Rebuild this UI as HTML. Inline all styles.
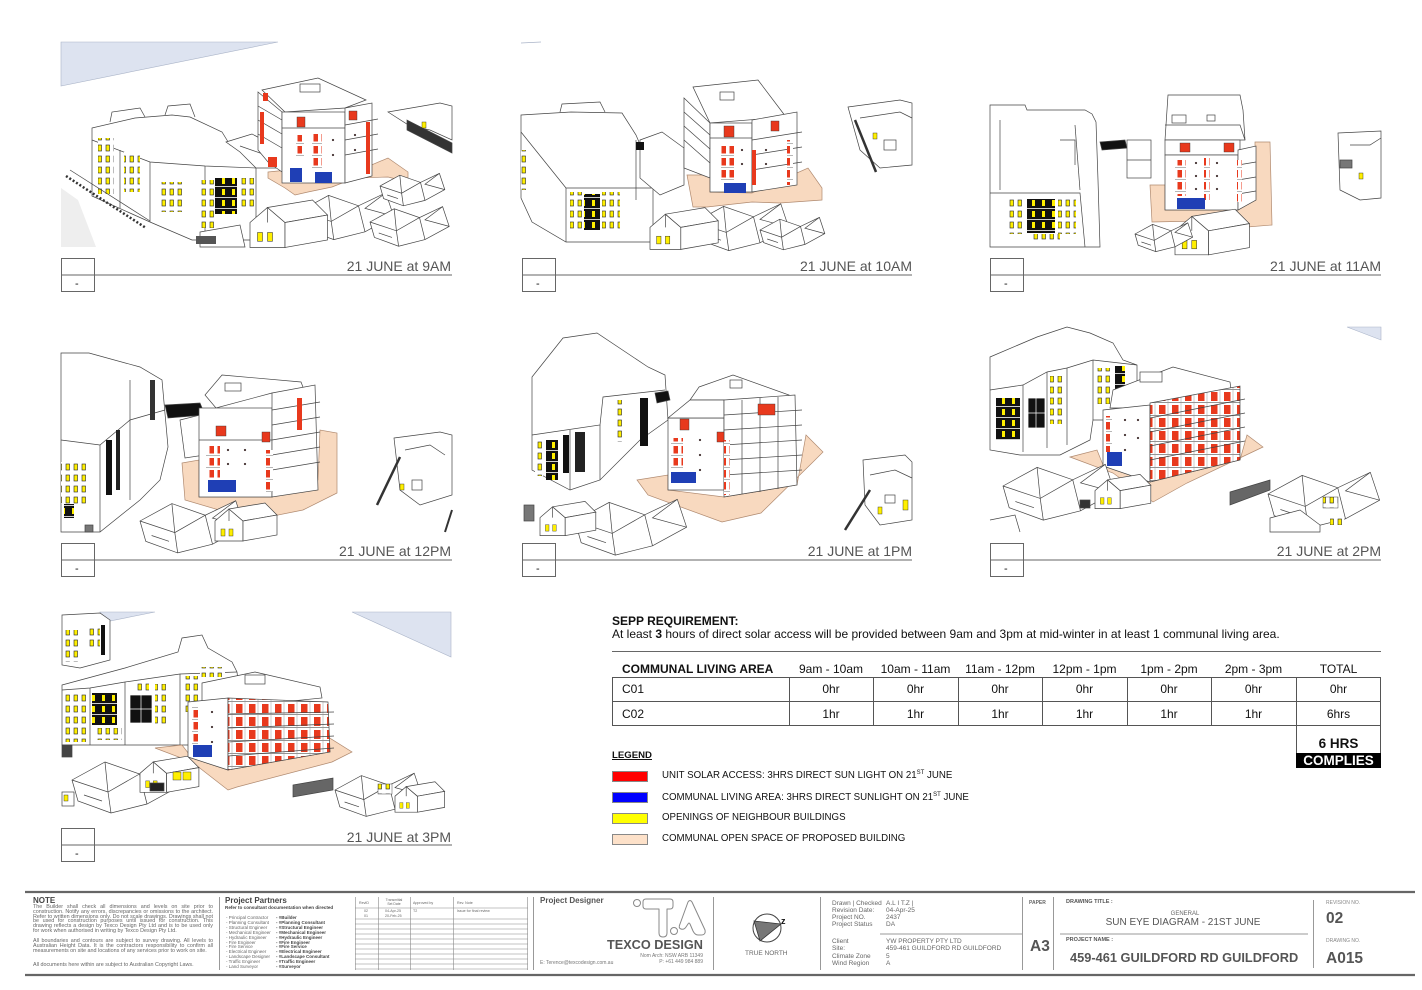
<!DOCTYPE html>
<html><head><meta charset="utf-8"><style>
*{margin:0;padding:0;box-sizing:border-box}
body{width:1422px;height:990px;background:#fff;position:relative;overflow:hidden;font-family:"Liberation Sans",Arial,sans-serif;color:#111}
.t{position:absolute;white-space:nowrap;line-height:1}
.g{color:#555}
.c{text-align:center}
svg{position:absolute;left:0;top:0}
.np{position:absolute;font-size:5.4px;line-height:4.8px;color:#666;text-align:justify;width:180px}
</style></head><body>
<svg width="1422" height="990" viewBox="0 0 1422 990">
<defs>
<pattern id="rw" width="8" height="12" patternUnits="userSpaceOnUse"><rect width="8" height="12" fill="#fff"/><rect x="1.5" y="2" width="4.5" height="7.5" fill="#e8391d"/><line x1="0" y1="11.5" x2="8" y2="11.5" stroke="#888" stroke-width=".6"/></pattern>
<pattern id="rw2" width="13" height="13" patternUnits="userSpaceOnUse"><rect width="13" height="13" fill="#fff"/><rect x="2" y="2" width="6.5" height="9" fill="#e8391d"/><line x1="0" y1="12.5" x2="13" y2="12.5" stroke="#666" stroke-width=".7"/><line x1="11" y1="0" x2="11" y2="13" stroke="#999" stroke-width=".5"/></pattern>
<pattern id="yw" width="8" height="11" patternUnits="userSpaceOnUse"><rect width="8" height="11" fill="#fff"/><rect x="2" y="2" width="3.5" height="6" fill="#ffef00" stroke="#222" stroke-width=".6"/></pattern>
<pattern id="bw" width="10" height="11" patternUnits="userSpaceOnUse"><rect width="10" height="11" fill="#111"/><rect x="2" y="2" width="3" height="6" fill="#ffef00"/><line x1="0" y1="10.5" x2="10" y2="10.5" stroke="#fff" stroke-width=".8"/></pattern>
<g id="hs" fill="#fff" stroke="#444" stroke-width=".7">
<polygon vector-effect="non-scaling-stroke" points="0,20 22,8 45,16 66,6 72,24 50,36 26,42 4,34"/>
<polyline vector-effect="non-scaling-stroke" points="0,20 24,28 45,16" fill="none"/>
<polyline vector-effect="non-scaling-stroke" points="24,28 26,42" fill="none"/>
<polyline vector-effect="non-scaling-stroke" points="22,8 24,28" fill="none"/>
<polyline vector-effect="non-scaling-stroke" points="45,16 50,36" fill="none"/>
<polyline vector-effect="non-scaling-stroke" points="66,6 50,18 72,24" fill="none"/>
<polyline vector-effect="non-scaling-stroke" points="8,30 20,34" fill="none"/>
</g>
<g id="hs2" fill="#fff" stroke="#444" stroke-width=".7">
<polygon vector-effect="non-scaling-stroke" points="0,14 14,2 28,14 28,34 0,34"/>
<polygon vector-effect="non-scaling-stroke" points="14,2 50,-4 62,8 28,14"/>
<polygon vector-effect="non-scaling-stroke" points="28,14 62,8 62,28 28,34"/>
<line vector-effect="non-scaling-stroke" x1="14" y1="2" x2="14" y2="14"/>
<rect x="6" y="22" width="4" height="7" fill="#ffef00" stroke="#222" stroke-width=".4"/>
<rect x="14" y="22" width="4" height="7" fill="#ffef00" stroke="#222" stroke-width=".4"/>
</g>
</defs>

<!-- ================= PANEL 1 : 9AM ================= -->
<g fill="#fff" stroke="#444" stroke-width=".7">
<polygon points="61,42 278,42 61,86" fill="#dde3f0" stroke="#aab4c8" stroke-width=".6"/>
<polygon points="61,188 78,200 96,247 61,247" fill="#eeeeee" stroke="none"/>
<polygon points="92,128 135,118 172,115 190,117 222,132 230,145 248,150 256,168 256,240 192,240 150,222 92,196"/>
<polyline points="92,140 150,162 205,166 256,168" fill="none"/>
<line x1="150" y1="162" x2="150" y2="222"/>
<line x1="205" y1="166" x2="205" y2="236"/>
<line x1="120" y1="150" x2="120" y2="208"/>
<polyline points="110,122 112,112 140,108 145,117" fill="none"/>
<polyline points="165,115 168,106 190,104 195,117" fill="none"/>
<rect x="98" y="138" width="16" height="56" fill="url(#yw)" stroke="none"/>
<rect x="124" y="152" width="16" height="40" fill="url(#yw)" stroke="none"/>
<rect x="160" y="182" width="24" height="30" fill="url(#yw)" stroke="none"/>
<rect x="198" y="180" width="16" height="48" fill="url(#yw)" stroke="none"/>
<rect x="215" y="178" width="22" height="36" fill="url(#bw)" stroke="none"/>
<rect x="238" y="178" width="16" height="30" fill="url(#yw)" stroke="none"/>
<polyline points="66,176 146,228" fill="none" stroke="#333" stroke-width="2.5" stroke-dasharray="2,2"/>
<polyline points="70,170 150,221" fill="none"/>
<polygon points="226,142 252,134 282,150 282,168 256,168 240,152"/>
<line x1="240" y1="146" x2="280" y2="160"/>
<polygon points="268,172 288,170 308,182 342,178 355,172 388,158 408,172 408,182 388,177 355,178 332,187 308,192 295,195 285,188 268,178" fill="#f8d9bf" stroke="#b08a70"/>
<polygon points="258,92 282,112 282,172 268,162 258,150"/>
<polygon points="262,90 318,78 366,100 345,108 285,112"/>
<rect x="282" y="112" width="63" height="71"/>
<polygon points="345,108 372,103 372,176 345,183"/>
<rect x="300" y="84" width="20" height="8"/>
<line x1="258" y1="106" x2="282" y2="120"/><line x1="258" y1="120" x2="282" y2="134"/><line x1="258" y1="134" x2="282" y2="148"/>
<line x1="345" y1="125" x2="378" y2="119"/><line x1="345" y1="140" x2="378" y2="134"/><line x1="345" y1="155" x2="378" y2="149"/>
<line x1="282" y1="128" x2="345" y2="128"/>
<rect x="263" y="93" width="5" height="8" fill="#e8391d" stroke="none"/>
<rect x="260" y="112" width="4" height="32" fill="#e8391d" stroke="none"/>
<rect x="297" y="117" width="8" height="10" fill="#e8391d" stroke="#333" stroke-width=".4"/>
<rect x="349" y="111" width="8" height="9" fill="#e8391d" stroke="#333" stroke-width=".4"/>
<rect x="312" y="133" width="10" height="35" fill="url(#rw)" stroke="none"/>
<rect x="296" y="135" width="8" height="22" fill="url(#rw)" stroke="none"/>
<rect x="366" y="122" width="4" height="52" fill="#e8391d" stroke="none"/>
<rect x="268" y="157" width="9" height="10" fill="#e8391d" stroke="none"/>
<rect x="290" y="168" width="12" height="14" fill="#1f3fb5" stroke="none"/>
<rect x="315" y="172" width="17" height="11" fill="#1f3fb5" stroke="none"/>
<circle cx="333" cy="140" r=".8" fill="#600"/><circle cx="333" cy="155" r=".8" fill="#600"/><circle cx="355" cy="135" r=".8" fill="#600"/><circle cx="355" cy="150" r=".8" fill="#600"/>
<polygon points="388,112 440,103 452,106 452,140 430,130 410,126"/>
<polygon points="407,120 452,143 452,153 407,130" fill="#333"/>
<rect x="422" y="122" width="4" height="6" fill="#ffef00" stroke="#222" stroke-width=".4"/>
<use href="#hs" transform="translate(300,185) scale(1.3)"/>
<use href="#hs" transform="translate(370,200) scale(1.1)"/>
<use href="#hs2" transform="translate(250,205) scale(1.25)"/>
<use href="#hs" transform="translate(380,168) scale(.9)"/>
<polygon points="200,232 240,225 245,247 200,247" fill="#fff"/>
<rect x="196" y="236" width="20" height="8" fill="#555" stroke="none"/>
</g>

<!-- ================= PANEL 2 : 10AM ================= -->
<g fill="#fff" stroke="#444" stroke-width=".7">
<line x1="521" y1="43" x2="541" y2="42" stroke="#aab4c8"/>
<polygon points="521,115 571,112 622,113 636,135 653,175 653,242 566,242 532,222 521,198"/>
<polyline points="521,132 566,188 653,188" fill="none"/>
<line x1="566" y1="188" x2="566" y2="242"/>
<polyline points="560,112 562,104 600,102 605,112" fill="none"/>
<rect x="521" y="150" width="6" height="40" fill="url(#yw)" stroke="none"/>
<rect x="570" y="192" width="12" height="40" fill="url(#yw)" stroke="none"/>
<rect x="584" y="194" width="16" height="36" fill="url(#bw)" stroke="none"/>
<rect x="602" y="192" width="18" height="40" fill="url(#yw)" stroke="none"/>
<line x1="636" y1="140" x2="636" y2="200"/>
<polygon points="640,140 662,132 684,148 684,185 660,195 640,178"/>
<rect x="636" y="142" width="8" height="8" fill="#111" stroke="none"/>
<polygon points="687,175 710,175 710,192 752,193 763,188 808,168 822,188 822,200 780,203 752,202 707,207 693,207" fill="#f8d9bf" stroke="#b08a70"/>
<polygon points="684,98 710,123 710,178 684,168"/>
<polygon points="693,87 758,80 786,117 710,123"/>
<rect x="710" y="123" width="42" height="69"/>
<polygon points="752,120 797,112 797,185 752,192"/>
<rect x="720" y="92" width="14" height="8"/>
<line x1="684" y1="112" x2="710" y2="135"/><line x1="684" y1="126" x2="710" y2="149"/><line x1="684" y1="140" x2="710" y2="163"/>
<line x1="752" y1="140" x2="802" y2="132"/><line x1="752" y1="155" x2="802" y2="147"/><line x1="752" y1="170" x2="802" y2="162"/>
<line x1="710" y1="138" x2="752" y2="138"/>
<rect x="724" y="126" width="10" height="11" fill="#e8391d" stroke="#333" stroke-width=".4"/>
<rect x="771" y="121" width="8" height="10" fill="#e8391d" stroke="#333" stroke-width=".4"/>
<rect x="721" y="144" width="13" height="38" fill="url(#rw)" stroke="none"/>
<rect x="787" y="140" width="6" height="45" fill="url(#rw)" stroke="none"/>
<rect x="752" y="150" width="4" height="35" fill="#e8391d" stroke="none"/>
<circle cx="742" cy="150" r=".8" fill="#600"/><circle cx="742" cy="164" r=".8" fill="#600"/><circle cx="766" cy="150" r=".8" fill="#600"/><circle cx="766" cy="164" r=".8" fill="#600"/>
<rect x="724" y="183" width="22" height="10" fill="#1f3fb5" stroke="none"/>
<polygon points="848,107 900,100 912,103 912,165 880,168 860,150"/>
<polyline points="860,118 900,112 912,118" fill="none"/>
<line x1="855" y1="120" x2="876" y2="172" stroke="#333" stroke-width="2.5"/>
<rect x="884" y="140" width="12" height="10" fill="#fff"/>
<rect x="873" y="133" width="4" height="6" fill="#ffef00" stroke="#222" stroke-width=".4"/>
<use href="#hs" transform="translate(695,196) scale(1.3)"/>
<use href="#hs2" transform="translate(650,212) scale(1.1)"/>
<use href="#hs" transform="translate(760,212) scale(.9)"/>
</g>

<!-- ================= PANEL 3 : 11AM ================= -->
<g fill="#fff" stroke="#444" stroke-width=".7">
<polygon points="990,105 1025,105 1027,110 1085,110 1092,114 1096,122 1098,180 1100,247 990,247"/>
<polyline points="990,193 1080,193 1085,247" fill="none"/>
<line x1="1000" y1="120" x2="1000" y2="190"/>
<line x1="1075" y1="125" x2="1080" y2="190"/>
<polyline points="1060,140 1075,140 1075,165" fill="none"/>
<rect x="1008" y="198" width="14" height="36" fill="url(#yw)" stroke="none"/>
<rect x="1027" y="199" width="28" height="34" fill="url(#bw)" stroke="none"/>
<rect x="1058" y="198" width="18" height="36" fill="url(#yw)" stroke="none"/>
<rect x="1030" y="234" width="30" height="8" fill="url(#yw)" stroke="none"/>
<polygon points="1100,142 1125,140 1127,148 1102,150" fill="#111"/>
<rect x="1127" y="140" width="24" height="38"/>
<line x1="1127" y1="160" x2="1151" y2="160"/>
<polygon points="1150,185 1165,185 1165,210 1238,210 1255,200 1255,142 1270,142 1272,225 1235,228 1200,221 1152,222" fill="#f8d9bf" stroke="#b08a70"/>
<polygon points="1168,95 1240,95 1243,110 1245,140 1165,140"/>
<polyline points="1165,125 1240,125 1245,140" fill="none"/>
<rect x="1172" y="115" width="14" height="8"/>
<rect x="1207" y="115" width="8" height="6"/>
<rect x="1165" y="140" width="75" height="15"/>
<rect x="1165" y="155" width="73" height="55"/>
<polygon points="1238,150 1256,146 1256,200 1238,210"/>
<line x1="1238" y1="165" x2="1256" y2="162"/><line x1="1238" y1="180" x2="1256" y2="177"/><line x1="1238" y1="194" x2="1256" y2="191"/>
<rect x="1180" y="143" width="10" height="9" fill="#e8391d" stroke="#333" stroke-width=".4"/>
<rect x="1224" y="143" width="10" height="9" fill="#e8391d" stroke="#333" stroke-width=".4"/>
<rect x="1175" y="160" width="11" height="36" fill="url(#rw)" stroke="none"/>
<rect x="1204" y="158" width="6" height="42" fill="url(#rw)" stroke="none"/>
<rect x="1237" y="160" width="5" height="42" fill="url(#rw)" stroke="none"/>
<circle cx="1196" cy="163" r=".8" fill="#600"/><circle cx="1196" cy="176" r=".8" fill="#600"/><circle cx="1196" cy="189" r=".8" fill="#600"/>
<circle cx="1217" cy="163" r=".8" fill="#600"/><circle cx="1217" cy="176" r=".8" fill="#600"/><circle cx="1217" cy="189" r=".8" fill="#600"/>
<rect x="1177" y="198" width="28" height="11" fill="#1f3fb5" stroke="none"/>
<use href="#hs2" transform="translate(1175,214) scale(1.2)"/>
<use href="#hs" transform="translate(1135,218) scale(.8)"/>
<polygon points="1338,133 1381,131 1381,198 1360,200 1340,190"/>
<polyline points="1350,145 1370,145 1381,138" fill="none"/>
<rect x="1340" y="160" width="12" height="8" fill="#777"/>
<rect x="1359" y="173" width="4" height="6" fill="#ffef00" stroke="#222" stroke-width=".4"/>
</g>

<!-- ================= PANEL 4 : 12PM ================= -->
<g fill="#fff" stroke="#444" stroke-width=".7">
<polygon points="61,353 89,353 140,367 162,380 168,447 160,480 140,500 100,532 61,532"/>
<polyline points="61,440 100,445 130,420 165,410" fill="none"/>
<line x1="100" y1="445" x2="100" y2="532"/>
<line x1="130" y1="380" x2="130" y2="500"/>
<rect x="61" y="462" width="28" height="42" fill="url(#yw)" stroke="none"/>
<rect x="64" y="504" width="10" height="14" fill="url(#bw)" stroke="none"/>
<rect x="106" y="440" width="6" height="55" fill="#111" stroke="none"/>
<rect x="116" y="430" width="4" height="60" fill="#222" stroke="none"/>
<rect x="150" y="380" width="5" height="40" fill="#333" stroke="none"/>
<polygon points="165,405 200,403 205,415 168,418" fill="#111"/>
<polygon points="180,420 200,415 205,455 185,458"/>
<polygon points="182,463 199,460 199,497 272,497 318,480 320,430 337,433 337,493 303,510 253,520 185,500" fill="#f8d9bf" stroke="#b08a70"/>
<polygon points="222,375 301,382 306,395 272,393 216,408 205,395"/>
<rect x="199" y="408" width="73" height="89"/>
<polygon points="272,393 315,385 318,490 272,497"/>
<rect x="225" y="383" width="16" height="8"/>
<line x1="272" y1="410" x2="320" y2="402"/><line x1="272" y1="425" x2="320" y2="417"/><line x1="272" y1="440" x2="320" y2="432"/><line x1="272" y1="455" x2="320" y2="447"/><line x1="272" y1="470" x2="320" y2="462"/>
<line x1="199" y1="440" x2="272" y2="440"/>
<rect x="216" y="426" width="10" height="10" fill="#e8391d" stroke="#333" stroke-width=".4"/>
<rect x="262" y="432" width="8" height="10" fill="#e8391d" stroke="#333" stroke-width=".4"/>
<rect x="206" y="444" width="14" height="34" fill="url(#rw)" stroke="none"/>
<rect x="266" y="450" width="7" height="42" fill="url(#rw)" stroke="none"/>
<rect x="297" y="398" width="5" height="32" fill="#e8391d" stroke="none"/>
<circle cx="228" cy="450" r=".8" fill="#600"/><circle cx="228" cy="464" r=".8" fill="#600"/><circle cx="245" cy="450" r=".8" fill="#600"/><circle cx="245" cy="464" r=".8" fill="#600"/>
<rect x="208" y="480" width="28" height="12" fill="#1f3fb5" stroke="none"/>
<use href="#hs" transform="translate(140,492) scale(1.45)"/>
<use href="#hs2" transform="translate(215,507) scale(1.0)"/>
<polygon points="394,438 440,432 452,435 452,495 420,505 400,490"/>
<polyline points="405,450 430,445 445,455" fill="none"/>
<rect x="412" y="480" width="10" height="10"/>
<rect x="400" y="484" width="4" height="6" fill="#ffef00" stroke="#222" stroke-width=".4"/>
<line x1="377" y1="505" x2="400" y2="457" stroke="#333" stroke-width="2.5"/>
<line x1="445" y1="532" x2="452" y2="510" stroke="#333" stroke-width="2"/>
<rect x="85" y="525" width="8" height="7" fill="#777"/>
</g>

<!-- ================= PANEL 5 : 1PM ================= -->
<g fill="#fff" stroke="#444" stroke-width=".7">
<polygon points="532,377 563,338 597,333 648,367 665,375 668,420 640,440 600,480 570,490 532,470"/>
<polyline points="532,435 600,425 603,397 665,390" fill="none"/>
<line x1="600" y1="425" x2="600" y2="480"/>
<line x1="570" y1="430" x2="570" y2="490"/>
<rect x="535" y="440" width="8" height="36" fill="url(#yw)" stroke="none"/>
<rect x="546" y="440" width="12" height="40" fill="url(#bw)" stroke="none"/>
<rect x="563" y="435" width="6" height="38" fill="#111" stroke="none"/>
<rect x="575" y="432" width="10" height="40" fill="#222" stroke="none"/>
<rect x="617" y="400" width="8" height="42" fill="url(#yw)" stroke="none"/>
<rect x="640" y="398" width="8" height="48" fill="#111" stroke="none"/>
<polygon points="655,393 668,391 670,400 657,403" fill="#111"/>
<polygon points="637,480 668,475 668,490 724,497 797,485 806,435 823,452 812,463 761,513 722,522 648,495" fill="#f8d9bf" stroke="#b08a70"/>
<polygon points="699,387 733,375 789,395 775,408 724,400 690,400"/>
<rect x="668" y="418" width="56" height="72"/>
<polygon points="668,418 690,400 724,400 724,418"/>
<polygon points="724,400 795,395 797,485 724,497"/>
<rect x="730" y="380" width="12" height="8"/>
<line x1="724" y1="415" x2="802" y2="410"/><line x1="724" y1="430" x2="802" y2="425"/><line x1="724" y1="445" x2="802" y2="440"/><line x1="724" y1="460" x2="802" y2="455"/><line x1="724" y1="475" x2="802" y2="470"/>
<line x1="742" y1="400" x2="742" y2="494"/><line x1="760" y1="398" x2="760" y2="492"/><line x1="778" y1="397" x2="778" y2="489"/>
<rect x="680" y="419" width="9" height="11" fill="#e8391d" stroke="#333" stroke-width=".4"/>
<rect x="717" y="432" width="7" height="10" fill="#e8391d" stroke="#333" stroke-width=".4"/>
<rect x="758" y="404" width="17" height="11" fill="#e8391d" stroke="#333" stroke-width=".4"/>
<rect x="671" y="438" width="12" height="32" fill="url(#rw)" stroke="none"/>
<rect x="724" y="440" width="6" height="55" fill="url(#rw)" stroke="none"/>
<circle cx="700" cy="440" r=".8" fill="#600"/><circle cx="700" cy="455" r=".8" fill="#600"/><circle cx="700" cy="470" r=".8" fill="#600"/>
<rect x="671" y="472" width="25" height="11" fill="#1f3fb5" stroke="none"/>
<use href="#hs" transform="translate(575,490) scale(1.55)"/>
<use href="#hs2" transform="translate(540,505) scale(.9)"/>
<rect x="524" y="505" width="10" height="16" fill="#777"/>
<polygon points="863,460 905,455 912,462 912,520 880,525 865,505"/>
<polyline points="870,475 895,470 912,478" fill="none"/>
<line x1="845" y1="530" x2="870" y2="490" stroke="#333" stroke-width="2.5"/>
<rect x="878" y="507" width="4" height="7" fill="#ffef00" stroke="#222" stroke-width=".4"/>
<rect x="903" y="500" width="5" height="10" fill="#ffef00" stroke="#222" stroke-width=".4"/>
<rect x="885" y="495" width="10" height="8"/>
</g>

<!-- ================= PANEL 6 : 2PM ================= -->
<g fill="#fff" stroke="#444" stroke-width=".7">
<polygon points="1347,327 1381,327 1381,340" fill="#dde3f0" stroke="#aab4c8" stroke-width=".6"/>
<polygon points="990,357 1037,337 1067,327 1090,333 1113,343 1123,360 1137,365 1137,407 1110,420 1093,420 1090,440 1060,455 1020,455 990,450"/>
<polyline points="990,390 1023,385 1047,372 1067,368 1093,360 1137,365" fill="none"/>
<line x1="1023" y1="385" x2="1023" y2="452"/><line x1="1047" y1="372" x2="1047" y2="448"/><line x1="1067" y1="368" x2="1067" y2="445"/><line x1="1093" y1="360" x2="1093" y2="420"/>
<rect x="996" y="398" width="24" height="42" fill="url(#bw)" stroke="none"/>
<rect x="1028" y="398" width="17" height="30" fill="#111" stroke="#fff" stroke-width=".8"/>
<line x1="1036" y1="398" x2="1036" y2="428" stroke="#fff"/><line x1="1028" y1="413" x2="1045" y2="413" stroke="#fff"/>
<rect x="1050" y="376" width="14" height="48" fill="url(#yw)" stroke="none"/>
<rect x="1095" y="368" width="18" height="36" fill="url(#yw)" stroke="none"/>
<rect x="1115" y="366" width="10" height="30" fill="url(#bw)" stroke="none"/>
<polygon points="1070,457 1097,450 1103,465 1150,482 1240,460 1247,435 1263,447 1187,483 1153,502 1113,473" fill="#f8d9bf" stroke="#b08a70"/>
<polygon points="1113,390 1173,367 1230,382 1232,397 1167,408 1110,408"/>
<rect x="1140" y="372" width="22" height="10"/>
<polygon points="1103,410 1150,405 1150,482 1103,466"/>
<polygon points="1150,403 1240,386 1240,460 1150,482" fill="url(#rw2)"/>
<line x1="1150" y1="418" x2="1245" y2="399"/><line x1="1150" y1="432" x2="1245" y2="413"/><line x1="1150" y1="446" x2="1245" y2="427"/><line x1="1150" y1="460" x2="1245" y2="441"/>
<rect x="1106" y="416" width="6" height="36" fill="url(#rw)" stroke="none"/>
<circle cx="1125" cy="420" r=".8" fill="#600"/><circle cx="1125" cy="435" r=".8" fill="#600"/><circle cx="1125" cy="450" r=".8" fill="#600"/><circle cx="1138" cy="420" r=".8" fill="#600"/><circle cx="1138" cy="438" r=".8" fill="#600"/>
<rect x="1107" y="452" width="15" height="14" fill="#1f3fb5" stroke="none"/>
<use href="#hs" transform="translate(1003,455) scale(1.55)"/>
<use href="#hs2" transform="translate(1095,478) scale(.9)"/>
<rect x="1080" y="500" width="10" height="8" fill="#333"/>
<polygon points="1230,492 1270,480 1270,490 1230,505" fill="#666"/>
<use href="#hs" transform="translate(1268,463) scale(1.55)"/>
<rect x="1323" y="497" width="15" height="11" fill="url(#yw)" stroke="#222" stroke-width=".4"/>
<polygon points="1270,518 1300,510 1320,525 1320,532 1270,532"/>
<rect x="1330" y="515" width="14" height="10" fill="url(#yw)" stroke="none"/>
<polyline points="990,520 1015,515 1020,532" fill="none"/>
</g>

<!-- ================= PANEL 7 : 3PM ================= -->
<g fill="#fff" stroke="#444" stroke-width=".7">
<polygon points="100,612 155,612 105,622" fill="#dde3f0" stroke="#aab4c8" stroke-width=".6"/>
<polygon points="352,612 451,612 451,657" fill="#dde3f0" stroke="#aab4c8" stroke-width=".6"/>
<polygon points="62,615 100,613 110,620 110,660 80,668 62,665"/>
<rect x="64" y="630" width="15" height="32" fill="url(#yw)" stroke="none"/>
<rect x="88" y="625" width="12" height="24" fill="url(#yw)" stroke="none"/>
<rect x="101" y="625" width="4" height="30" fill="#111" stroke="none"/>
<polygon points="62,685 125,668 178,652 182,638 202,635 208,648 232,662 237,672 240,700 235,745 150,745 62,745"/>
<polyline points="62,690 90,688 125,682 180,674 237,672" fill="none"/>
<line x1="90" y1="688" x2="90" y2="745"/><line x1="125" y1="682" x2="125" y2="745"/><line x1="180" y1="674" x2="180" y2="745"/>
<rect x="64" y="692" width="22" height="50" fill="url(#yw)" stroke="none"/>
<rect x="92" y="693" width="25" height="32" fill="url(#bw)" stroke="none"/>
<rect x="130" y="695" width="22" height="28" fill="#111" stroke="#fff"/>
<line x1="141" y1="695" x2="141" y2="723" stroke="#fff"/><line x1="130" y1="709" x2="152" y2="709" stroke="#fff"/>
<rect x="135" y="682" width="14" height="9" fill="url(#yw)" stroke="none"/>
<rect x="155" y="684" width="12" height="40" fill="url(#yw)" stroke="none"/>
<rect x="94" y="728" width="28" height="12" fill="url(#yw)" stroke="none"/>
<rect x="185" y="676" width="14" height="36" fill="url(#yw)" stroke="none"/>
<rect x="200" y="667" width="25" height="10" fill="url(#yw)" stroke="none"/>
<rect x="62" y="745" width="10" height="12" fill="#444"/>
<polygon points="155,748 182,745 192,758 228,770 330,752 328,737 352,752 332,762 237,787 228,790 192,762" fill="#f8d9bf" stroke="#b08a70"/>
<polygon points="202,683 255,672 320,687 322,698 252,705 202,702"/>
<rect x="245" y="675" width="20" height="9"/>
<polygon points="188,702 228,698 228,770 188,757"/>
<polygon points="228,698 328,702 330,752 228,770" fill="url(#rw2)"/>
<line x1="228" y1="714" x2="334" y2="712"/><line x1="228" y1="728" x2="334" y2="724"/><line x1="228" y1="742" x2="334" y2="736"/><line x1="228" y1="756" x2="334" y2="748"/>
<rect x="192" y="706" width="6" height="38" fill="url(#rw)" stroke="none"/>
<circle cx="212" cy="712" r=".8" fill="#600"/><circle cx="212" cy="727" r=".8" fill="#600"/><circle cx="212" cy="742" r=".8" fill="#600"/>
<rect x="193" y="745" width="19" height="12" fill="#1f3fb5" stroke="none"/>
<use href="#hs" transform="translate(72,750) scale(1.5)"/>
<use href="#hs2" transform="translate(140,760) scale(.95)"/>
<rect x="173" y="772" width="8" height="8" fill="#ffef00" stroke="#222" stroke-width=".4"/>
<rect x="183" y="772" width="8" height="8" fill="#ffef00" stroke="#222" stroke-width=".4"/>
<rect x="150" y="783" width="14" height="8" fill="#222"/>
<polygon points="293,785 333,778 333,790 293,797" fill="#666"/>
<use href="#hs" transform="translate(335,766) scale(1.2)"/>
<use href="#hs2" transform="translate(395,785) scale(.8)"/>
<rect x="378" y="784" width="14" height="10" fill="url(#yw)" stroke="#222" stroke-width=".4"/>
<rect x="62" y="792" width="12" height="14"/>
<rect x="64" y="795" width="4" height="6" fill="#ffef00" stroke="#222" stroke-width=".4"/>
</g>

<!-- ================= PANEL LABELS ================= -->
<g fill="none" stroke="#666" stroke-width="1">
<rect x="61.5" y="258.5" width="33" height="33"/><line x1="61" y1="275" x2="452" y2="275"/>
<rect x="522.5" y="258.5" width="33" height="33"/><line x1="522" y1="275" x2="912" y2="275"/>
<rect x="990.5" y="258.5" width="33" height="33"/><line x1="990" y1="275" x2="1381" y2="275"/>
<rect x="61.5" y="543.5" width="33" height="33"/><line x1="61" y1="560" x2="452" y2="560"/>
<rect x="522.5" y="543.5" width="33" height="33"/><line x1="522" y1="560" x2="912" y2="560"/>
<rect x="990.5" y="543.5" width="33" height="33"/><line x1="990" y1="560" x2="1381" y2="560"/>
<rect x="61.5" y="828.5" width="33" height="33"/><line x1="61" y1="845" x2="452" y2="845"/>
</g>

<!-- ================= TABLE ================= -->
<g fill="none" stroke="#555" stroke-width="1">
<line x1="612" y1="651.5" x2="1381" y2="651.5" stroke="#666"/>
<rect x="612.5" y="677.5" width="768" height="48"/>
<line x1="612" y1="701.5" x2="1381" y2="701.5"/>
<line x1="789.5" y1="677" x2="789.5" y2="726"/>
<line x1="873.5" y1="677" x2="873.5" y2="726"/>
<line x1="958.5" y1="677" x2="958.5" y2="726"/>
<line x1="1042.5" y1="677" x2="1042.5" y2="726"/>
<line x1="1127.5" y1="677" x2="1127.5" y2="726"/>
<line x1="1211.5" y1="677" x2="1211.5" y2="726"/>
<line x1="1296.5" y1="677" x2="1296.5" y2="768"/>
<line x1="1380.5" y1="726" x2="1380.5" y2="768"/>
</g>
<rect x="1296" y="753" width="85" height="15" fill="#000"/>
<!-- legend swatches -->
<rect x="612.5" y="771.5" width="35" height="10" fill="#ff0000" stroke="#888"/>
<rect x="612.5" y="792.5" width="35" height="10" fill="#0000ff" stroke="#888"/>
<rect x="612.5" y="813.5" width="35" height="10" fill="#ffff00" stroke="#888"/>
<rect x="612.5" y="834.5" width="35" height="10" fill="#fde1c9" stroke="#888"/>

<!-- ================= TITLE BLOCK ================= -->
<line x1="25" y1="892" x2="1415" y2="892" stroke="#666" stroke-width="2.2"/>
<line x1="25" y1="975" x2="1415" y2="975" stroke="#666" stroke-width="2.2"/>
<g stroke="#999" stroke-width="1">
<line x1="219.5" y1="897" x2="219.5" y2="970"/>
<line x1="533.5" y1="897" x2="533.5" y2="970"/>
<line x1="713.5" y1="897" x2="713.5" y2="970"/>
<line x1="820.5" y1="897" x2="820.5" y2="970"/>
<line x1="1022.5" y1="897" x2="1022.5" y2="970"/>
<line x1="1053.5" y1="897" x2="1053.5" y2="970"/>
<line x1="1313.5" y1="900" x2="1313.5" y2="968"/>
<line x1="880" y1="934" x2="1022" y2="934"/>
<line x1="1060" y1="934" x2="1308" y2="934"/>
</g>
<g stroke="#888" stroke-width=".6">
<line x1="355.5" y1="897" x2="355.5" y2="970"/>
<line x1="378.5" y1="897" x2="378.5" y2="970"/>
<line x1="410.5" y1="897" x2="410.5" y2="970"/>
<line x1="453.5" y1="897" x2="453.5" y2="970"/>
<line x1="527.5" y1="897" x2="527.5" y2="970"/>
<line x1="355" y1="908" x2="528" y2="908"/>
<line x1="355" y1="919" x2="528" y2="919"/>
<line x1="355" y1="924" x2="528" y2="924"/>
<line x1="355" y1="929" x2="528" y2="929"/>
<line x1="355" y1="934" x2="528" y2="934"/>
<line x1="355" y1="939" x2="528" y2="939"/>
<line x1="355" y1="944" x2="528" y2="944"/>
<line x1="355" y1="949" x2="528" y2="949"/>
<line x1="355" y1="954" x2="528" y2="954"/>
<line x1="355" y1="959" x2="528" y2="959"/>
<line x1="355" y1="964" x2="528" y2="964"/>
<line x1="355" y1="969" x2="528" y2="969"/>
</g>
<!-- logo -->
<g fill="none" stroke="#888" stroke-width="1" stroke-linejoin="round">
<circle cx="637" cy="903" r="3.5"/>
<path d="M646,899 H670 Q673,899 673,902 V906 Q673,909 670,909 H667 V933 Q667,937 663,937 Q659,937 659,933 V909 H646 Q643,909 643,906 V902 Q643,899 646,899 Z"/>
<circle cx="674" cy="931" r="3.5"/>
<path d="M688,902 Q690,899 692,902 L705,930 Q706,935 701,935 H698 Q695,935 693,931 L690,924 Q689,922 688,924 L686,927 Q684,930 681,929 Q678,928 680,924 Z"/>
</g>
<!-- compass -->
<circle cx="767" cy="928" r="14" fill="none" stroke="#444" stroke-width="1"/>
<polygon points="754,921 781,924 760,941" fill="#777" stroke="#333" stroke-width=".8"/>
</svg>

<!-- ================= TEXT ================= -->
<div class="t g" style="font-size:14px;right:971px;top:259px">21 JUNE at 9AM</div>
<div class="t g" style="font-size:14px;right:510px;top:259px">21 JUNE at 10AM</div>
<div class="t g" style="font-size:14px;right:41px;top:259px">21 JUNE at 11AM</div>
<div class="t g" style="font-size:14px;right:971px;top:544px">21 JUNE at 12PM</div>
<div class="t g" style="font-size:14px;right:510px;top:544px">21 JUNE at 1PM</div>
<div class="t g" style="font-size:14px;right:41px;top:544px">21 JUNE at 2PM</div>
<div class="t g" style="font-size:14px;right:971px;top:830px">21 JUNE at 3PM</div>
<div class="t" style="font-size:11px;left:75px;top:279px">-</div>
<div class="t" style="font-size:11px;left:536px;top:279px">-</div>
<div class="t" style="font-size:11px;left:1004px;top:279px">-</div>
<div class="t" style="font-size:11px;left:75px;top:564px">-</div>
<div class="t" style="font-size:11px;left:536px;top:564px">-</div>
<div class="t" style="font-size:11px;left:1004px;top:564px">-</div>
<div class="t" style="font-size:11px;left:75px;top:849px">-</div>

<div class="t" style="font-size:12px;font-weight:bold;left:612px;top:615px">SEPP REQUIREMENT:</div>
<div class="t" style="font-size:12px;left:612px;top:628px">At least <b>3</b> hours of direct solar access will be provided between 9am and 3pm at mid-winter in at least 1 communal living area.</div>
<div class="t" style="font-size:12px;font-weight:bold;left:622px;top:663px">COMMUNAL LIVING AREA</div>
<div class="t c" style="font-size:12px;left:789px;width:84px;top:663px">9am - 10am</div>
<div class="t c" style="font-size:12px;left:873px;width:85px;top:663px">10am - 11am</div>
<div class="t c" style="font-size:12px;left:958px;width:84px;top:663px">11am - 12pm</div>
<div class="t c" style="font-size:12px;left:1042px;width:85px;top:663px">12pm - 1pm</div>
<div class="t c" style="font-size:12px;left:1127px;width:84px;top:663px">1pm - 2pm</div>
<div class="t c" style="font-size:12px;left:1211px;width:85px;top:663px">2pm - 3pm</div>
<div class="t c" style="font-size:12px;left:1296px;width:85px;top:663px">TOTAL</div>
<div class="t" style="font-size:12px;left:622px;top:683px">C01</div>
<div class="t c" style="font-size:12px;left:789px;width:84px;top:683px">0hr</div>
<div class="t c" style="font-size:12px;left:873px;width:85px;top:683px">0hr</div>
<div class="t c" style="font-size:12px;left:958px;width:84px;top:683px">0hr</div>
<div class="t c" style="font-size:12px;left:1042px;width:85px;top:683px">0hr</div>
<div class="t c" style="font-size:12px;left:1127px;width:84px;top:683px">0hr</div>
<div class="t c" style="font-size:12px;left:1211px;width:85px;top:683px">0hr</div>
<div class="t c" style="font-size:12px;left:1296px;width:85px;top:683px">0hr</div>
<div class="t" style="font-size:12px;left:622px;top:708px">C02</div>
<div class="t c" style="font-size:12px;left:789px;width:84px;top:708px">1hr</div>
<div class="t c" style="font-size:12px;left:873px;width:85px;top:708px">1hr</div>
<div class="t c" style="font-size:12px;left:958px;width:84px;top:708px">1hr</div>
<div class="t c" style="font-size:12px;left:1042px;width:85px;top:708px">1hr</div>
<div class="t c" style="font-size:12px;left:1127px;width:84px;top:708px">1hr</div>
<div class="t c" style="font-size:12px;left:1211px;width:85px;top:708px">1hr</div>
<div class="t c" style="font-size:12px;left:1296px;width:85px;top:708px">6hrs</div>
<div class="t c" style="font-size:13.5px;font-weight:bold;left:1296px;width:85px;top:737px">6 HRS</div>
<div class="t c" style="font-size:13.5px;font-weight:bold;color:#fff;left:1296px;width:85px;top:754px">COMPLIES</div>

<div class="t" style="font-size:9.6px;font-weight:bold;text-decoration:underline;left:612px;top:751px">LEGEND</div>
<div class="t" style="font-size:9.7px;left:662px;top:770px">UNIT SOLAR ACCESS: 3HRS DIRECT SUN LIGHT ON 21<sup style="font-size:6px">ST</sup> JUNE</div>
<div class="t" style="font-size:9.7px;left:662px;top:792px">COMMUNAL LIVING AREA: 3HRS DIRECT SUNLIGHT ON 21<sup style="font-size:6px">ST</sup> JUNE</div>
<div class="t" style="font-size:9.7px;left:662px;top:813px">OPENINGS OF NEIGHBOUR BUILDINGS</div>
<div class="t" style="font-size:9.7px;left:662px;top:834px">COMMUNAL OPEN SPACE OF PROPOSED BUILDING</div>

<!-- title block text -->
<div class="t" style="font-size:8px;font-weight:bold;color:#444;left:33px;top:897px">NOTE</div>
<div class="np" style="left:33px;top:905px">The Builder shall check all dimensions and levels on site prior to construction. Notify any errors, discrepancies or omissions to the architect. Refer to written dimensions only. Do not scale drawings. Drawings shall not be used for construction purposes until issued for construction. This drawing reflects a design by Texco Design Pty Ltd and is to be used only for work when authorised in writing by Texco Design Pty Ltd.</div>
<div class="np" style="left:33px;top:939px">All boundaries and contours are subject to survey drawing. All levels to Australian Height Data. It is the contractors responsibility to confirm all measurements on site and locations of any services prior to work on site.</div>
<div class="np" style="left:33px;top:963px">All documents here within are subject to Australian Copyright Laws.</div>

<div class="t" style="font-size:8px;font-weight:bold;color:#444;left:225px;top:897px">Project Partners</div>
<div class="t" style="font-size:4.6px;font-weight:bold;color:#444;left:225px;top:906px">Refer to consultant documentation when directed</div>
<div class="t" style="font-size:4.5px;line-height:4.9px;color:#666;left:226px;top:916px">- Principal Contractor<br>- Planning Consultant<br>- Structural Engineer<br>- Mechanical Engineer<br>- Hydraulic Engineer<br>- Fire Engineer<br>- Fire Service<br>- Electrical Engineer<br>- Landscape Designer<br>- Traffic Engineer<br>- Land Surveyor</div>
<div class="t" style="font-size:4.5px;line-height:4.9px;color:#444;font-weight:bold;left:276px;top:916px">- #Builder<br>- #Planning Consultant<br>- #Structural Engineer<br>- #Mechanical Engineer<br>- #Hydraulic Engineer<br>- #Fire Engineer<br>- #Fire Service<br>- #Electrical Engineer<br>- #Landscape Consultant<br>- #Traffic Engineer<br>- #Surveyor</div>

<div class="t" style="font-size:3.6px;color:#666;left:359px;top:902px">RevID</div>
<div class="t c" style="font-size:3.4px;line-height:3.8px;color:#666;left:378px;width:32px;top:899px">Transmittal<br>Set Date</div>
<div class="t" style="font-size:3.6px;color:#666;left:413px;top:902px">Approved by</div>
<div class="t" style="font-size:3.6px;color:#666;left:457px;top:902px">Rev. Note</div>
<div class="t" style="font-size:3.6px;color:#666;left:364px;top:910px">02</div>
<div class="t" style="font-size:3.6px;color:#666;left:385px;top:910px">04-Apr-25</div>
<div class="t" style="font-size:3.6px;color:#666;left:413px;top:910px">T2</div>
<div class="t" style="font-size:3.6px;color:#666;left:457px;top:910px">Issue for final review</div>
<div class="t" style="font-size:3.6px;color:#666;left:364px;top:915px">01</div>
<div class="t" style="font-size:3.6px;color:#666;left:385px;top:915px">20-Feb-25</div>

<div class="t" style="font-size:8px;font-weight:bold;color:#555;left:540px;top:897px">Project Designer</div>
<div class="t" style="font-size:12.7px;font-weight:bold;color:#555;left:607px;top:939px">TEXCO DESIGN</div>
<div class="t" style="font-size:5px;color:#777;right:719px;top:954px">Nom Arch: NSW ARB 11349</div>
<div class="t" style="font-size:5px;color:#777;right:719px;top:960px">P: +61 449 984 889</div>
<div class="t" style="font-size:5px;color:#777;left:540px;top:961px">E: Terence@texcodesign.com.au</div>

<div class="t" style="font-size:9px;font-weight:bold;left:781px;top:917px">z</div>
<div class="t" style="font-size:6.5px;color:#666;left:745px;top:951px">TRUE NORTH</div>

<div class="t" style="font-size:6.5px;line-height:7px;color:#666;left:832px;top:900px">Drawn | Checked<br>Revision Date:<br>Project NO.<br>Project Status</div>
<div class="t" style="font-size:6.5px;line-height:7px;color:#666;left:886px;top:900px">A.L I T.Z |<br>04-Apr-25<br>2437<br>DA</div>
<div class="t" style="font-size:6.5px;line-height:7.3px;color:#666;left:832px;top:938px">Client<br>Site:<br>Climate Zone<br>Wind Region</div>
<div class="t" style="font-size:6.5px;line-height:7.3px;color:#666;left:886px;top:938px">YW PROPERTY PTY LTD<br>459-461 GUILDFORD RD GUILDFORD<br>5<br>A</div>

<div class="t" style="font-size:5px;font-weight:bold;color:#666;left:1029px;top:901px">PAPER</div>
<div class="t" style="font-size:15.5px;font-weight:bold;color:#555;left:1030px;top:939px">A3</div>
<div class="t" style="font-size:5.5px;font-weight:bold;color:#555;left:1066px;top:900px">DRAWING TITLE :</div>
<div class="t c" style="font-size:6px;color:#666;left:1085px;width:200px;top:911px">GENERAL</div>
<div class="t c" style="font-size:10px;color:#555;left:1083px;width:200px;top:918px">SUN EYE DIAGRAM - 21ST JUNE</div>
<div class="t" style="font-size:5.5px;font-weight:bold;color:#555;left:1066px;top:938px">PROJECT NAME :</div>
<div class="t" style="font-size:12.8px;font-weight:bold;color:#555;left:1070px;top:952px">459-461 GUILDFORD RD GUILDFORD</div>
<div class="t" style="font-size:5px;color:#888;left:1326px;top:901px">REVISION NO.</div>
<div class="t" style="font-size:15.5px;font-weight:bold;color:#555;left:1326px;top:911px">02</div>
<div class="t" style="font-size:5px;color:#888;left:1326px;top:939px">DRAWING NO.</div>
<div class="t" style="font-size:15.5px;font-weight:bold;color:#555;left:1326px;top:951px">A015</div>
</body></html>
